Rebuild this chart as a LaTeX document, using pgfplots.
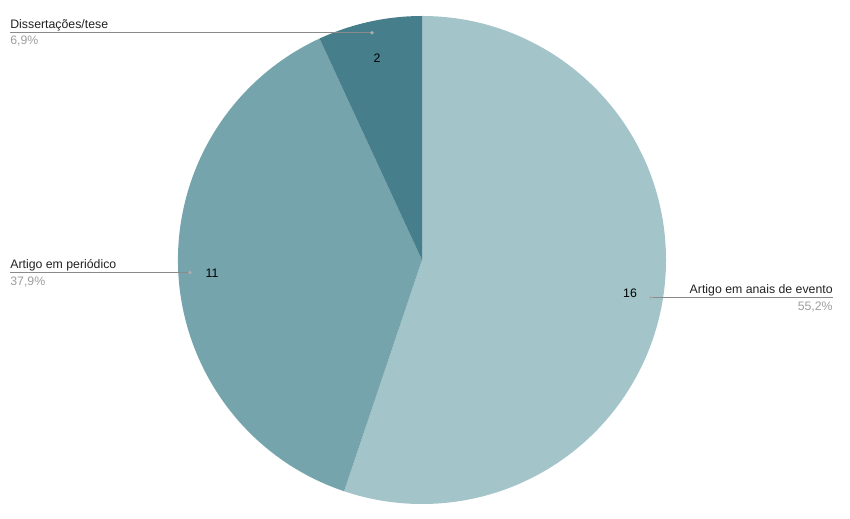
\documentclass[border=0pt]{standalone}
\usepackage{pgfplots}
\pgfplotsset{compat=1.18}
\usepackage{pgfplotstable}
\usepackage{fontspec}
\setmainfont{Liberation Sans}
\definecolor{cA}{HTML}{A3C4C8}
\definecolor{cB}{HTML}{75A4AD}
\definecolor{cC}{HTML}{467F8B}
\definecolor{txt}{HTML}{222222}
\definecolor{pct}{HTML}{9E9E9E}
\definecolor{ln}{HTML}{8A8A8A}
\pgfplotstableread[col sep=comma]{
label,value
Artigo em anais de evento,16
Artigo em periódico,11
Dissertações/tese,2
}\piedata
\begin{document}
\begin{tikzpicture}
\begin{axis}[
  x=0.2mm, y=0.2mm, y dir=reverse,
  xmin=0, xmax=850, ymin=0, ymax=519,
  hide axis, clip=false,
]
\path (axis cs:0,0) rectangle (axis cs:850,519);
\pgfplotstablegetelem{0}{value}\of\piedata \let\va\pgfplotsretval
\pgfplotstablegetelem{1}{value}\of\piedata \let\vb\pgfplotsretval
\pgfplotstablegetelem{2}{value}\of\piedata \let\vc\pgfplotsretval
\pgfmathsetmacro\tot{\va+\vb+\vc}
\pgfmathsetmacro\aA{90}
\pgfmathsetmacro\aB{90-360*\va/\tot}
\pgfmathsetmacro\aC{\aB-360*\vb/\tot}
\pgfmathsetmacro\aD{\aC-360*\vc/\tot}
\def\R{48.8mm}
\fill[cA] (axis cs:422,260) -- ++(\aA:\R) arc[start angle=\aA, end angle=\aB, radius=\R] -- cycle;
\fill[cB] (axis cs:422,260) -- ++(\aB:\R) arc[start angle=\aB, end angle=\aC, radius=\R] -- cycle;
\fill[cC] (axis cs:422,260) -- ++(\aC:\R) arc[start angle=\aC, end angle=\aD, radius=\R] -- cycle;
% leader lines
\draw[ln, line width=0.6pt] (axis cs:10,32.7) -- (axis cs:372,32.7);
\fill[ln!70] (axis cs:372,32.7) circle[radius=1.1pt];
\draw[ln, line width=0.6pt] (axis cs:10,272.5) -- (axis cs:190,272.5);
\fill[ln!70] (axis cs:190,272.5) circle[radius=1.1pt];
\draw[ln, line width=0.6pt] (axis cs:651,297.5) -- (axis cs:833,297.5);
\fill[ln!70] (axis cs:651,297.5) circle[radius=1.1pt];
% labels
\begin{scope}[font=\fontsize{7}{8.4}\selectfont, inner sep=0pt]
\node[anchor=base west, txt] at (axis cs:10,28.5) {Dissertações/tese};
\node[anchor=base west, pct] at (axis cs:10,45) {6,9\%};
\node[anchor=base west, txt] at (axis cs:10,268) {Artigo em periódico};
\node[anchor=base west, pct] at (axis cs:10,285) {37,9\%};
\node[anchor=base east, txt] at (axis cs:833,293.5) {Artigo em anais de evento};
\node[anchor=base east, pct] at (axis cs:833,310) {55,2\%};
\node[anchor=base, black] at (axis cs:377,62.5) {2};
\node[anchor=base, black] at (axis cs:212,277) {11};
\node[anchor=base, black] at (axis cs:630,297.5) {16};
\end{scope}
\end{axis}
\end{tikzpicture}
\end{document}
